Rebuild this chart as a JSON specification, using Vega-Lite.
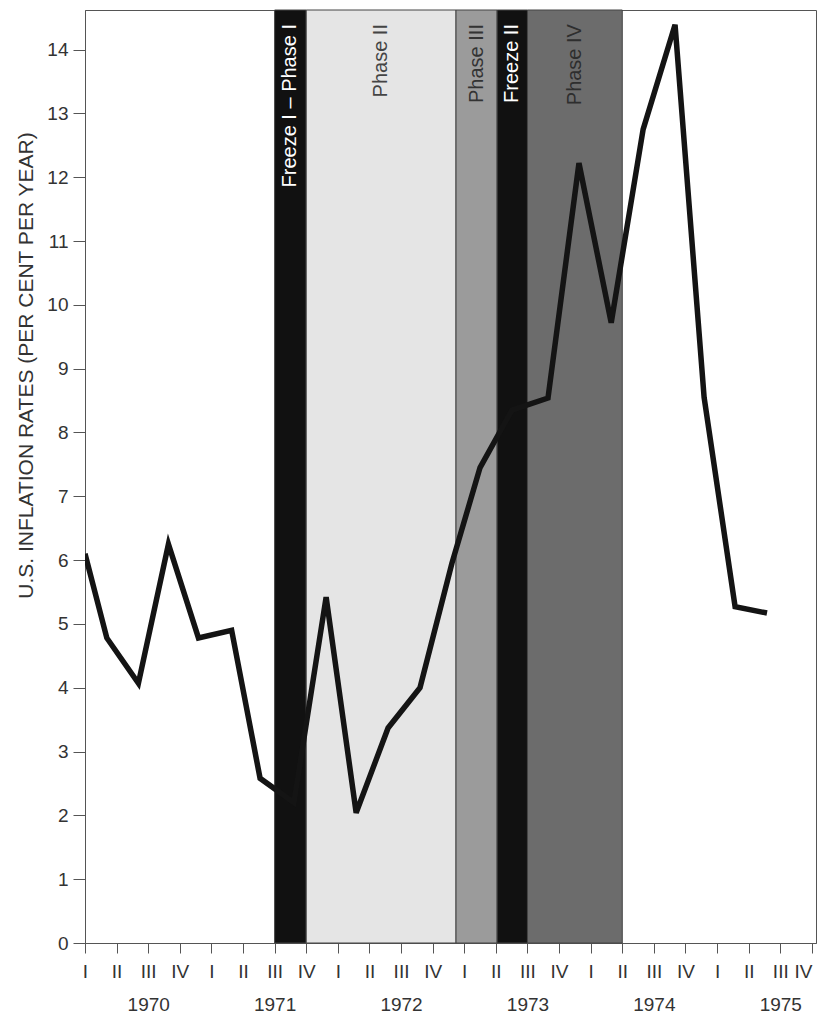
{
  "$schema": "https://vega.github.io/schema/vega-lite/v6.json",
  "width": 731,
  "height": 933,
  "autosize": "none",
  "padding": {"left": 85, "top": 10, "right": 3, "bottom": 74},
  "background": "white",
  "config": {
    "view": {"stroke": "#555", "strokeWidth": 1},
    "font": "Liberation Sans"
  },
  "datasets": {
    "bands": [
      {"name": "Freeze I – Phase I", "start": 6, "end": 7},
      {"name": "Phase II", "start": 7, "end": 11.74},
      {"name": "Phase III", "start": 11.74, "end": 13.04},
      {"name": "Freeze II", "start": 13.04, "end": 14.0},
      {"name": "Phase IV", "start": 14.0, "end": 17.0}
    ],
    "rates": [
      {"q": 0, "rate": 6.1},
      {"q": 0.69, "rate": 4.78},
      {"q": 1.69, "rate": 4.07},
      {"q": 2.64, "rate": 6.25},
      {"q": 3.59, "rate": 4.78},
      {"q": 4.64, "rate": 4.9},
      {"q": 5.54, "rate": 2.58},
      {"q": 6.61, "rate": 2.2},
      {"q": 7.63, "rate": 5.42},
      {"q": 8.58, "rate": 2.04},
      {"q": 9.59, "rate": 3.37},
      {"q": 10.6, "rate": 4.0},
      {"q": 11.61, "rate": 5.95},
      {"q": 12.5, "rate": 7.45},
      {"q": 13.51, "rate": 8.35},
      {"q": 14.65, "rate": 8.54},
      {"q": 15.63, "rate": 12.22},
      {"q": 16.65, "rate": 9.72},
      {"q": 17.66, "rate": 12.75},
      {"q": 18.67, "rate": 14.39},
      {"q": 19.59, "rate": 8.55},
      {"q": 20.57, "rate": 5.27},
      {"q": 21.58, "rate": 5.17}
    ]
  },
  "layer": [
    {
      "data": {"name": "bands"},
      "mark": {"type": "rect", "stroke": "#444", "strokeWidth": 1},
      "encoding": {
        "x": {
          "field": "start",
          "type": "quantitative",
          "scale": {"domain": [0, 23.13], "nice": false, "zero": false},
          "axis": {
            "title": null,
            "grid": false,
            "values": [0,1,2,3,4,5,6,7,8,9,10,11,12,13,14,15,16,17,18,19,20,21,22,23],
            "labelExpr": "[['I','II','III','IV'][datum.value % 4], datum.value % 4 == 2 ? '' + (1970 + floor(datum.value / 4)) : '']",
            "labelFont": "Liberation Sans",
            "labelFontSize": 19,
            "labelColor": "#333",
            "labelPadding": 9,
            "labelLineHeight": 33,
            "labelFlush": false,
            "labelAlign": {"condition": {"test": "datum.value == 23", "value": "right"}, "value": "center"},
            "labelOverlap": false,
            "labelBound": false,
            "tickSize": 10,
            "tickColor": "#555",
            "domainColor": "#555"
          }
        },
        "x2": {"field": "end"},
        "fill": {
          "field": "name",
          "type": "nominal",
          "scale": {
            "domain": ["Freeze I – Phase I", "Phase II", "Phase III", "Freeze II", "Phase IV"],
            "range": ["#111111", "#e5e5e5", "#9b9b9b", "#111111", "#6c6c6c"]
          },
          "legend": null
        }
      }
    },
    {
      "data": {"name": "bands"},
      "transform": [{"calculate": "(datum.start + datum.end) / 2", "as": "mid"}],
      "mark": {"type": "text", "angle": 270, "align": "right", "baseline": "middle", "font": "Liberation Sans", "fontSize": 20},
      "encoding": {
        "x": {
          "field": "mid",
          "type": "quantitative",
          "axis": {
            "title": null,
            "grid": false,
            "values": [0,1,2,3,4,5,6,7,8,9,10,11,12,13,14,15,16,17,18,19,20,21,22,23],
            "labelExpr": "[['I','II','III','IV'][datum.value % 4], datum.value % 4 == 2 ? '' + (1970 + floor(datum.value / 4)) : '']",
            "labelFont": "Liberation Sans",
            "labelFontSize": 19,
            "labelColor": "#333",
            "labelPadding": 9,
            "labelLineHeight": 33,
            "labelFlush": false,
            "labelAlign": {"condition": {"test": "datum.value == 23", "value": "right"}, "value": "center"},
            "labelOverlap": false,
            "labelBound": false,
            "tickSize": 10,
            "tickColor": "#555",
            "domainColor": "#555"
          }
        },
        "y": {"datum": 14.4, "type": "quantitative"},
        "text": {"field": "name"},
        "color": {
          "field": "name",
          "type": "nominal",
          "scale": {
            "domain": ["Freeze I – Phase I", "Phase II", "Phase III", "Freeze II", "Phase IV"],
            "range": ["#ffffff", "#444444", "#333333", "#ffffff", "#2e2e2e"]
          },
          "legend": null
        }
      }
    },
    {
      "data": {"name": "rates"},
      "mark": {"type": "line", "color": "#141414", "strokeWidth": 5.5, "strokeJoin": "miter", "strokeCap": "butt", "clip": true},
      "encoding": {
        "x": {
          "field": "q",
          "type": "quantitative",
          "axis": {
            "title": null,
            "grid": false,
            "values": [0,1,2,3,4,5,6,7,8,9,10,11,12,13,14,15,16,17,18,19,20,21,22,23],
            "labelExpr": "[['I','II','III','IV'][datum.value % 4], datum.value % 4 == 2 ? '' + (1970 + floor(datum.value / 4)) : '']",
            "labelFont": "Liberation Sans",
            "labelFontSize": 19,
            "labelColor": "#333",
            "labelPadding": 9,
            "labelLineHeight": 33,
            "labelFlush": false,
            "labelAlign": {"condition": {"test": "datum.value == 23", "value": "right"}, "value": "center"},
            "labelOverlap": false,
            "labelBound": false,
            "tickSize": 10,
            "tickColor": "#555",
            "domainColor": "#555"
          }
        },
        "y": {
          "field": "rate",
          "type": "quantitative",
          "scale": {"domain": [0, 14.62], "nice": false, "zero": true},
          "axis": {
            "title": "U.S. INFLATION RATES (PER CENT PER YEAR)",
            "titleFont": "Liberation Sans",
            "titleFontSize": 21,
            "titleFontWeight": "normal",
            "titleColor": "#333",
            "titleX": -59,
            "titleY": 355,
            "titleAlign": "center",
            "titleBaseline": "middle",
            "titleAngle": 270,
            "grid": false,
            "values": [0,1,2,3,4,5,6,7,8,9,10,11,12,13,14],
            "format": "d",
            "labelFont": "Liberation Sans",
            "labelFontSize": 19,
            "labelColor": "#333",
            "labelPadding": 5,
            "tickSize": 12,
            "tickColor": "#555",
            "domainColor": "#555"
          }
        }
      }
    }
  ]
}
